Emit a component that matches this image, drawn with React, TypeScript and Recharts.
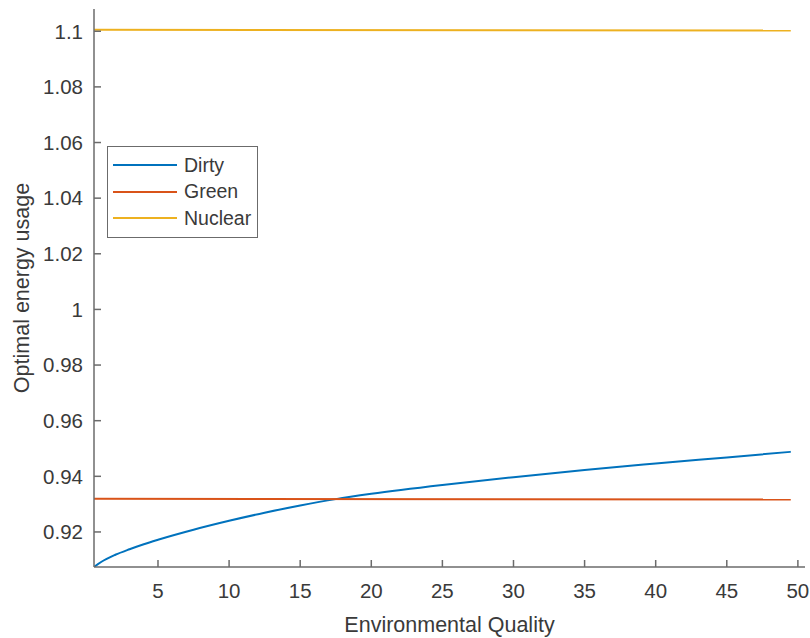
import { Legend, Line, LineChart, XAxis, YAxis } from "recharts";

const dirtyX = [0.5, 1, 2, 3, 4, 5, 7.5, 10, 12.5, 15, 17.5, 20, 25, 30, 35, 40, 45, 49.5];
const dirtyY = [
  0.9074, 0.9092, 0.9118, 0.9138, 0.9156, 0.9172, 0.9208, 0.924, 0.9269, 0.9295,
  0.9318, 0.9337, 0.9369, 0.9397, 0.9423, 0.9446, 0.9468, 0.9488,
];
const flatX = [0.5, 49.5];
const greenY = [0.9319, 0.9317];
const nuclearY = [1.1005, 1.1003];

const xTicks = [5, 10, 15, 20, 25, 30, 35, 40, 45, 50];
const yTicks = [0.92, 0.94, 0.96, 0.98, 1, 1.02, 1.04, 1.06, 1.08, 1.1];

const seriesNames = ["Dirty", "Green", "Nuclear"];
const seriesColors = ["#0072BD", "#D95319", "#EDB120"];

const dirtyData = dirtyX.map((x, i) => ({ x, y: dirtyY[i] }));
const greenData = flatX.map((x, i) => ({ x, y: greenY[i] }));
const nuclearData = flatX.map((x, i) => ({ x, y: nuclearY[i] }));

const axisColor = "#6b6b6b";
const textColor = "#3a3a3a";
const font = "'Liberation Sans', Arial, sans-serif";

const LegendBox = () => (
  <div
    style={{
      border: `1px solid ${axisColor}`,
      background: "#fff",
      padding: "5px 6px 5px 5px",
      fontFamily: font,
      fontSize: 19.5,
      color: textColor,
    }}
  >
    {seriesNames.map((name, i) => (
      <div key={name} style={{ display: "flex", alignItems: "center", height: 26.5 }}>
        <span
          style={{
            display: "inline-block",
            width: 64,
            borderTop: `2px solid ${seriesColors[i]}`,
            marginRight: 7,
          }}
        />
        {name}
      </div>
    ))}
  </div>
);

export default function App() {
  return (
    <div style={{ position: "absolute", left: 0, top: 0, background: "#fff" }}>
      <LineChart
        width={810}
        height={638}
        margin={{ top: 9, right: 5, bottom: 0, left: 0 }}
        style={{ fontFamily: font }}
      >
        <XAxis
          xAxisId="bottom"
          dataKey="x"
          type="number"
          domain={[0.5, 50.5]}
          ticks={xTicks}
          allowDataOverflow
          height={71}
          stroke={axisColor}
          strokeWidth={1.5}
          tickSize={-7}
          tickMargin={23}
          tick={{ fill: textColor, fontSize: 20.5 }}
          label={{
            value: "Environmental Quality",
            position: "insideBottom",
            offset: 6,
            fill: textColor,
            fontSize: 21.5,
          }}
        />
        <XAxis
          xAxisId="top"
          orientation="top"
          dataKey="x"
          type="number"
          domain={[0.5, 50.5]}
          ticks={xTicks}
          allowDataOverflow
          height={0}
          stroke={axisColor}
          strokeWidth={1.5}
          tickSize={-7}
          tick={false}
        />
        <YAxis
          yAxisId="left"
          type="number"
          domain={[0.9074, 1.108]}
          ticks={yTicks}
          allowDataOverflow
          width={94}
          stroke={axisColor}
          strokeWidth={1.5}
          tickSize={-7}
          tickMargin={18}
          tick={{ fill: textColor, fontSize: 20.5 }}
          tickFormatter={(v: number) => String(v)}
          label={{
            value: "Optimal energy usage",
            angle: -90,
            position: "insideLeft",
            offset: 21,
            style: { textAnchor: "middle" },
            fill: textColor,
            fontSize: 21.5,
          }}
        />
        <YAxis
          yAxisId="right"
          orientation="right"
          type="number"
          domain={[0.9074, 1.108]}
          ticks={yTicks}
          allowDataOverflow
          width={0}
          stroke={axisColor}
          strokeWidth={1.5}
          tickSize={-7}
          tick={false}
        />
        <Legend
          layout="vertical"
          align="center"
          verticalAlign="middle"
          content={<LegendBox />}
          wrapperStyle={{ left: 107, top: 146, width: "auto" }}
        />
        <Line
          xAxisId="bottom"
          yAxisId="left"
          data={dirtyData}
          dataKey="y"
          name={seriesNames[0]}
          type="monotone"
          stroke={seriesColors[0]}
          strokeWidth={2}
          dot={false}
          isAnimationActive={false}
        />
        <Line
          xAxisId="bottom"
          yAxisId="left"
          data={greenData}
          dataKey="y"
          name={seriesNames[1]}
          type="linear"
          stroke={seriesColors[1]}
          strokeWidth={2}
          dot={false}
          isAnimationActive={false}
        />
        <Line
          xAxisId="bottom"
          yAxisId="left"
          data={nuclearData}
          dataKey="y"
          name={seriesNames[2]}
          type="linear"
          stroke={seriesColors[2]}
          strokeWidth={2}
          dot={false}
          isAnimationActive={false}
        />
      </LineChart>
    </div>
  );
}
